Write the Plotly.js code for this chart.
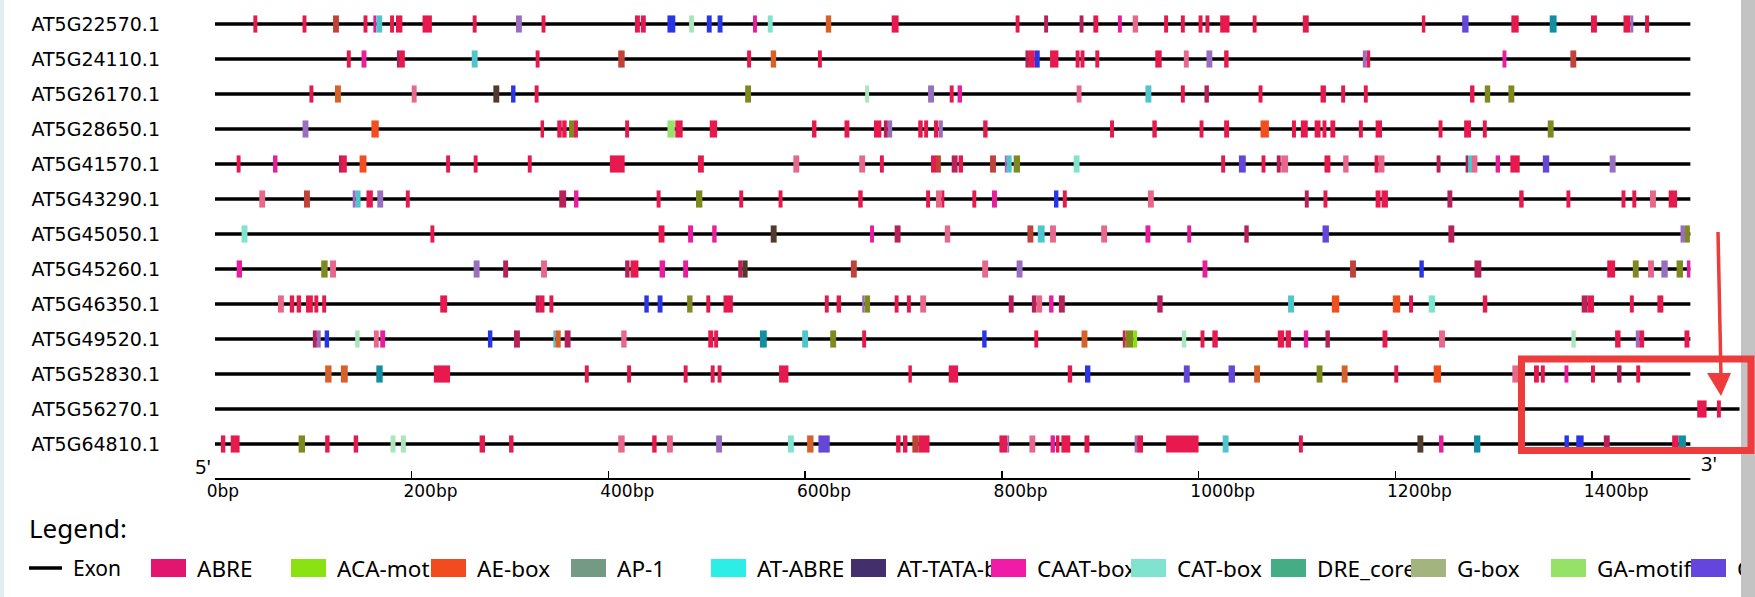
<!DOCTYPE html>
<html>
<head>
<meta charset="utf-8">
<script src="https://cdn.plot.ly/plotly-3.0.1.min.js"></script>
<style>
html,body{margin:0;padding:0;background:#fff;}
#chart{width:1755px;height:597px;}
</style>
</head>
<body>
<div id="chart"></div>
<script>
// ---------------- DATA ----------------
const genes = ['AT5G22570.1','AT5G24110.1','AT5G26170.1','AT5G28650.1','AT5G41570.1','AT5G43290.1',
  'AT5G45050.1','AT5G45260.1','AT5G46350.1','AT5G49520.1','AT5G52830.1','AT5G56270.1','AT5G64810.1'];
const geneLen = [1500,1500,1500,1500,1500,1500,1500,1500,1500,1500,1500,1550,1500];

const tickVals = [0,200,400,600,800,1000,1200,1400];
const tickText = ['0bp','200bp','400bp','600bp','800bp','1000bp','1200bp','1400bp'];

// motif elements per gene: [start bp, length bp, colour key]
const m_AT5G22570 = [[39,4,'R'],[89,4,'R'],[120,6,'B'],[151,4,'R'],[161,3,'H'],[164,6,'C'],[178,4,'R'],[184,6.5,'R'],[211,9.5,'R'],[262,4,'R'],[306,6,'V'],[332,4,'R'],
 [427,5,'R'],[433,5,'R'],[460,8,'U'],[482,5,'L'],[500,5,'U'],[511,5,'U'],[547,4,'H'],[562,5,'A'],[621,5.5,'O'],[688,7,'R'],[814,4,'R'],[843,4,'M'],[879,4,'M'],[893,5,'R'],[918,4,'H'],[933,5.5,'P'],[965,4,'R'],
 [982,4,'R'],[1000,4,'R'],[1007,4,'R'],[1022,9.5,'R'],[1055,4,'R'],[1106,6,'R'],[1227,3.5,'R'],[1268,6.5,'I'],[1318,7.5,'R'],[1357,7,'T'],[1399,6,'R'],[1432,7,'R'],[1439,3,'V'],[1454,4,'R']];
const m_AT5G24110 = [[134,4,'R'],[149,5,'H'],[185,3,'M'],[188,5,'R'],[261,6,'C'],[326,4,'R'],[410,6.5,'B'],[541,4,'R'],[565,5.5,'O'],[613,4,'R'],[824,3.5,'M'],[827.5,6,'R'],[833.5,5,'U'],[849,8.5,'R'],[875,4,'R'],[880,4,'R'],[895,4,'R'],[956,6.5,'R'],[985,5,'P'],[1008,6,'V'],[1026,4.5,'R'],[1167,4,'V'],[1171,3.5,'R'],[1309,4,'H'],[1378,6,'B']];
const m_AT5G26170 = [[96,4,'R'],[122,6,'O'],[200,5,'P'],[283,6,'D'],[301,4.5,'U'],[325,4,'R'],[539,6,'G'],[661,4,'L'],[725,6,'V'],[747,4,'R'],[755,4.5,'H'],[876,5,'P'],[946,6,'C'],[982,4,'R'],[1006,4.5,'M'],[1061,4,'R'],[1124,5.5,'R'],[1145,4,'R'],[1168,4,'R'],[1276,4.5,'R'],[1291,5.5,'G'],[1315,6,'G']];
const m_AT5G28650 = [[89,6,'V'],[159,7.5,'E'],[331,3.5,'R'],[348,4.5,'R'],[353,4.5,'R'],[360,5,'G'],[365,4,'R'],[417,4,'R'],[460,7.5,'K'],[468,7.5,'R'],[503,7.5,'R'],[607,4.5,'R'],[640,5,'R'],[670,7.5,'R'],[680,4,'M'],[684,4.5,'V'],[715,4.5,'R'],[721,4,'R'],[731,4.5,'R'],[736,4,'V'],[781,4.5,'R'],[910,4,'R'],[953,4.5,'R'],[1001,4,'R'],[1026,5,'R'],[1063,8.5,'E'],[1095,4,'R'],[1104,7,'R'],[1118,6,'R'],[1126,4,'R'],[1134,5,'R'],[1163,4,'R'],[1180,6.5,'R'],[1244,4,'R'],[1270,7,'R'],[1289,4,'R'],[1355,6,'G']];
const m_AT5G41570 = [[22,4,'R'],[59,4.5,'H'],[126,3,'M'],[128.5,5.5,'R'],[147,7,'E'],[235,4,'R'],[263,4,'R'],[318,4,'R'],[401.5,15,'R'],[491,6,'R'],[588,6,'P'],[655,6,'P'],[676,4,'R'],[728,5.5,'R'],[733,5,'B'],[749,6,'M'],[756,4.5,'R'],[788,6,'B'],[803,2,'V'],[805,5,'C'],[812,6.5,'G'],[873,6,'A'],[1023,4,'R'],[1041,7,'I'],[1064,4,'R'],[1079.5,4,'M'],[1084,7,'P'],[1128,6,'R'],[1147,5.5,'P'],[1179,4,'R'],[1183,6,'P'],[1242,4,'M'],[1271.5,2.5,'M'],[1274,4,'C'],[1278,5.5,'P'],[1302,4.5,'H'],[1317,9.5,'R'],[1350,6.5,'I'],[1418,6,'V']];
const m_AT5G43290 = [[45,6,'P'],[90.5,6,'B'],[140,3,'V'],[143,5,'C'],[154,6.5,'R'],[165,6,'V'],[194,4,'R'],[350,7,'M'],[365,4.5,'H'],[449,4,'R'],[489,6.5,'G'],[533,4,'R'],[573,4,'R'],[654,4.5,'R'],[723,4,'R'],[733,5.5,'P'],[738.5,3,'R'],[770,4,'R'],[790,5,'H'],[853,4.5,'U'],[862,4,'R'],[948.5,6,'P'],[1108,4,'M'],[1127,4,'R'],[1180,5,'R'],[1186,6.5,'R'],[1253,5,'M'],[1326,4.5,'R'],[1374,4,'R'],[1430,4,'R'],[1441,4,'R'],[1459,6,'P'],[1478,8.5,'R']];
const m_AT5G45050 = [[27,6,'A'],[219,4,'R'],[451,6,'R'],[481,5,'H'],[505.5,4.5,'H'],[565,6,'D'],[666,4,'H'],[691,6,'M'],[742,5.5,'P'],[826,6,'B'],[836.5,7,'C'],[849,6,'P'],[901,6,'P'],[946,5,'H'],[988.5,4,'H'],[1046.5,4.5,'M'],[1126,6.5,'I'],[1254,6,'M'],[1490,4.5,'V'],[1494.5,5,'G']];
const m_AT5G45260 = [[22,5.5,'H'],[108,6.5,'G'],[117,6,'P'],[263,6,'V'],[293,5,'M'],[331.5,6,'P'],[417,4.5,'M'],[422.5,8,'R'],[452,5.5,'H'],[476,5,'H'],[532,4.5,'M'],[536.5,5,'D'],[646.5,6,'B'],[780,6,'P'],[815,6,'V'],[1004,5,'H'],[1154,6,'B'],[1224.5,4.5,'U'],[1280.5,7,'M'],[1415.5,8,'R'],[1441.5,6,'G'],[1457,6,'P'],[1470.5,6.5,'V'],[1486,6.5,'G'],[1496.5,3.5,'H']];
const m_AT5G46350 = [[64,6,'P'],[76,4.5,'R'],[83,4.5,'R'],[92.5,7,'R'],[101,4,'R'],[109,4,'R'],[229,7,'R'],[326,3.5,'M'],[329.5,5.5,'R'],[340,4,'R'],[436.5,4.5,'U'],[450,5,'U'],[480,5.5,'G'],[499.5,4,'R'],[517,9.5,'R'],[620,4,'R'],[632,4.5,'R'],[658,2.5,'V'],[660.5,5.5,'G'],[691,4,'R'],[703.5,4,'R'],[717,6,'P'],[807,5,'M'],[830.5,4.5,'M'],[835,6,'P'],[848,4.5,'H'],[858,6,'M'],[958,5.5,'M'],[1091,6,'C'],[1135.5,7.5,'E'],[1197.5,7.5,'E'],[1214,4,'R'],[1234,6.5,'A'],[1289,4.5,'R'],[1389.5,6,'M'],[1395.5,6.5,'R'],[1438.5,4,'R'],[1466.5,6,'R']];
const m_AT5G49520 = [[99.5,4,'M'],[103.5,4,'V'],[111.5,4.5,'U'],[142.5,4.5,'L'],[161.5,5,'P'],[168,5,'H'],[277.5,4.5,'U'],[304,6,'M'],[344,2,'C'],[346,5.5,'O'],[355.5,6,'M'],[413,5.5,'P'],[501.5,5,'R'],[507.5,4,'R'],[554,7,'T'],[597,6,'C'],[625.5,6,'G'],[658,4,'R'],[780,4.5,'U'],[833,4,'R'],[881,6,'O'],[923,2.5,'R'],[925.5,8,'G'],[933.5,4,'Y'],[983,4.5,'L'],[1002,4,'R'],[1014,5.5,'R'],[1080.5,6.5,'R'],[1088.5,5.5,'R'],[1107,4.5,'H'],[1129,4.5,'M'],[1187,5,'R'],[1244.5,6,'P'],[1379,4.5,'L'],[1423.5,5.5,'R'],[1444.5,3.5,'V'],[1448,5,'R'],[1494,5,'R']];
const m_AT5G52830 = [[112,6.5,'O'],[128,7,'O'],[164,6.5,'T'],[222.5,16.5,'R'],[376,4,'R'],[419,4,'R'],[476.5,4,'R'],[504,4,'R'],[511,4,'R'],[573.5,9.5,'R'],[705,3.5,'R'],[746,9.5,'R'],[867,4.5,'R'],[884.5,5.5,'U'],[985,6,'I'],[1030.5,6.5,'I'],[1056.5,6,'O'],[1120,6,'G'],[1145.5,6,'O'],[1199,4,'R'],[1239,7.5,'E'],[1319,6,'P'],[1341,5,'R'],[1348,4,'R'],[1372,4,'H'],[1399,4,'R'],[1425.5,4.5,'M'],[1445,4,'R']];
const m_AT5G56270 = [[1507,9.5,'R'],[1527,4,'R']];
const m_AT5G64810 = [[6,4.5,'R'],[16,9,'R'],[85,6.5,'G'],[112,4.5,'R'],[141,4.5,'R'],[178.5,5,'L'],[189,5,'L'],[269,5.5,'R'],[299,4.5,'R'],[410,6.5,'P'],[444.5,4.5,'R'],[459.5,6,'P'],[509.5,6,'V'],[582.5,6,'A'],[602,6.5,'O'],[613.5,11.5,'I'],[692.5,4.5,'R'],[699.5,4.5,'R'],[709,6.5,'B'],[715.5,11,'R'],[797.5,8,'R'],[805.5,2,'V'],[828,6,'P'],[849.5,4.5,'H'],[855,3.5,'R'],[860.5,9,'R'],[884,5,'R'],[935,2.5,'V'],[937.5,6,'R'],[967,33,'R'],[1024.5,6,'C'],[1102,4,'R'],[1222.5,6,'D'],[1244.5,4.5,'H'],[1280,6.5,'T'],[1372,4.5,'U'],[1384,7.5,'U'],[1412,6,'M'],[1481.5,6.5,'R'],[1488,7.5,'T']];

const motifsByGene = [m_AT5G22570,m_AT5G24110,m_AT5G26170,m_AT5G28650,m_AT5G41570,m_AT5G43290,
  m_AT5G45050,m_AT5G45260,m_AT5G46350,m_AT5G49520,m_AT5G52830,m_AT5G56270,m_AT5G64810];

const legendNames = ['ABRE','ACA-motif','AE-box','AP-1','AT-ABRE','AT-TATA-box','CAAT-box','CAT-box','DRE_core','G-box','GA-motif','GARE-motif'];
const legendColors = ['#E2156F','#8BE212','#F24B1F','#749A85','#2DEEE6','#432F6B','#F01CA8','#80E3CF','#44AD85','#A3B47E','#96E268','#6446DE'];

// ---------------- STYLE ----------------
const palette = {R:'#E8194E',P:'#E8678C',V:'#9B6FC0',C:'#4FC6CB',T:'#138FA3',O:'#D6622A',B:'#C0433A',
  D:'#523A2D',L:'#A9E6B9',U:'#2B35E8',I:'#6446D8',H:'#EA1D9E',M:'#B8215A',G:'#7E8A1F',A:'#7FE3CE',
  E:'#F24E1E',K:'#96E26A',Y:'#8AE010'};

const W = 1755, Hh = 597;
const ML = 215, MR = 6, MT = 3, MB = 118;
const plotW = W - ML - MR, plotH = Hh - MT - MB;
const pxPerBp = (1592 - 215) / 1400;
const xMax = plotW / pxPerBp;
const rowPx = 35;
const yTop = -(24 - MT) / rowPx;
const yBot = yTop + plotH / rowPx;

const px = x => (x - ML) / plotW;
const py = y => 1 - (y - MT) / plotH;
const FONT_W = 'DejaVu Sans, sans-serif';
const FONT = 'Noto Sans, DejaVu Sans, sans-serif';

// ---------------- TRACES ----------------
const traces = [];
traces.push({
  type:'bar', orientation:'h', y: genes.map((g,i)=>i), x: geneLen, base: geneLen.map(()=>0),
  width: 0.095, marker:{color:'#000', line:{width:0}}, hoverinfo:'skip', showlegend:false
});
const groups = {};
motifsByGene.forEach((arr, gi) => {
  arr.forEach(([s, l, k]) => {
    if (!groups[k]) groups[k] = {y:[], x:[], base:[]};
    groups[k].y.push(gi); groups[k].x.push(l); groups[k].base.push(s);
  });
});
Object.keys(groups).forEach(k => {
  traces.push({type:'bar', orientation:'h', y:groups[k].y, x:groups[k].x, base:groups[k].base,
    width:0.49, marker:{color:palette[k], line:{width:0}}, hoverinfo:'skip', showlegend:false});
});

// ---------------- DECORATION ----------------
const shapes = [];
const annotations = [];
// axis line 0..1500
shapes.push({type:'line', xref:'x', yref:'paper', x0:0, x1:1500, y0:0, y1:0, line:{color:'#000', width:2}});
// left strip & scrollbar
shapes.push({type:'rect', xref:'paper', yref:'paper', x0:px(0), x1:px(4), y0:py(Hh), y1:py(0), fillcolor:'#E2EDF2', line:{width:0}, layer:'above'});
shapes.push({type:'rect', xref:'paper', yref:'paper', x0:px(1741), x1:px(1755), y0:py(Hh), y1:py(0), fillcolor:'#C3C3C3', line:{width:0}, layer:'above'});
// red highlight box
shapes.push({type:'rect', xref:'paper', yref:'paper', x0:px(1521.5), x1:px(1751), y0:py(450.5), y1:py(359), fillcolor:'rgba(0,0,0,0)', line:{color:'#EE3B3B', width:7}, layer:'above'});
// arrow
shapes.push({type:'line', xref:'paper', yref:'paper', x0:px(1718), x1:px(1721), y0:py(232), y1:py(376), line:{color:'#EE3B3B', width:3.5}, layer:'above'});
shapes.push({type:'path', xref:'paper', yref:'paper',
  path:`M ${px(1707)} ${py(373)} L ${px(1731)} ${py(373)} L ${px(1721)} ${py(396)} Z`,
  fillcolor:'#EE3B3B', line:{width:0}, layer:'above'});

// 5' / 3'
annotations.push({xref:'paper', yref:'paper', x:px(193), y:py(466), xanchor:'left', yanchor:'middle', text:"5'", showarrow:false, font:{family:FONT, size:20, color:'#000'}});
annotations.push({xref:'paper', yref:'paper', x:px(1699), y:py(463), xanchor:'left', yanchor:'middle', text:"3'", showarrow:false, font:{family:FONT, size:20, color:'#000'}});
// Legend title
annotations.push({xref:'paper', yref:'paper', x:px(27), y:py(528), xanchor:'left', yanchor:'middle', text:'Legend:', showarrow:false, font:{family:FONT, size:26, color:'#000'}});
// Exon legend
shapes.push({type:'line', xref:'paper', yref:'paper', x0:px(29), x1:px(62), y0:py(568), y1:py(568), line:{color:'#000', width:3.5}});
annotations.push({xref:'paper', yref:'paper', x:px(71), y:py(568), xanchor:'left', yanchor:'middle', text:'Exon', showarrow:false, font:{family:FONT, size:21, color:'#000'}});
const legPitch = 140, leg0 = 151;
legendNames.forEach((n, i) => {
  const x0 = leg0 + legPitch * i;
  const textX = x0 + 45;
  const nextX = (i < legendNames.length - 1) ? leg0 + legPitch * (i + 1) : 1741;
  annotations.push({xref:'paper', yref:'paper', x:px(textX), y:py(568), xanchor:'left', yanchor:'middle',
    text:n, showarrow:false, width: Math.max(2, nextX - textX - 1), align:'left', borderpad:0,
    font:{family:FONT, size:22.5, color:'#000'}});
  shapes.push({type:'rect', xref:'paper', yref:'paper', x0:px(x0), x1:px(x0 + 35), y0:py(577), y1:py(559),
    fillcolor:legendColors[i], line:{width:0}, layer:'above'});
});

const layout = {
  width: W, height: Hh,
  margin: {l:ML, r:MR, t:MT, b:MB, pad:0},
  paper_bgcolor:'#fff', plot_bgcolor:'#fff',
  barmode:'overlay', showlegend:false,
  xaxis: {range:[0, xMax], showgrid:false, zeroline:false, showline:false,
    tickmode:'array', tickvals:tickVals, ticktext:tickText,
    ticks:'inside', ticklen:8, tickwidth:1.5, tickcolor:'#000',
    ticklabelposition:'outside right', ticklabelshift:-9, ticklabelstandoff:0,
    tickfont:{family:FONT_W, size:17, color:'#000'}, fixedrange:true},
  yaxis: {range:[yBot, yTop], showgrid:false, zeroline:false, showline:false,
    tickmode:'array', tickvals:genes.map((g,i)=>i), ticktext:genes, ticks:'',
    ticklabelstandoff:54, tickfont:{family:FONT_W, size:19, color:'#000'}, fixedrange:true},
  shapes: shapes, annotations: annotations
};

Plotly.newPlot('chart', traces, layout, {staticPlot:true, displayModeBar:false});
</script>
</body>
</html>
